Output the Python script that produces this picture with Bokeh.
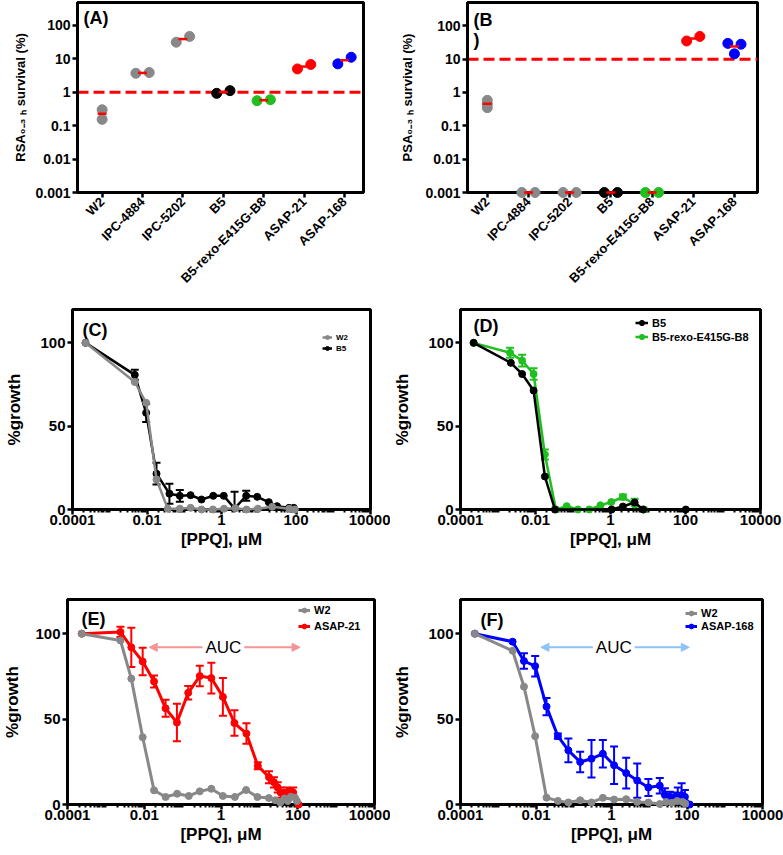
import math
from bokeh.plotting import figure
from bokeh.layouts import column, row
from bokeh.models import (FixedTicker, Span, Label, Legend, LegendItem, Whisker, TeeHead,
                          ColumnDataSource, Arrow, NormalHead, Range1d)
from bokeh.embed import file_html
from bokeh.resources import INLINE

FONT = "Liberation Sans"
GRAY = "#888888"
BLACK = "#000000"
GREEN = "#1fbf1f"
RED = "#ff0000"
BLUE = "#0000ff"
PINK = "#f59494"
LIGHTBLUE = "#8cc2f5"

# ---------------- data: panels A / B ----------------
strains = ["W2", "IPC-4884", "IPC-5202", "B5", "B5-rexo-E415G-B8", "ASAP-21", "ASAP-168"]
strain_colors = [GRAY, GRAY, GRAY, BLACK, GREEN, RED, BLUE]
rsa_survival = [[0.30, 0.155], [3.7, 3.9], [31.6, 47.0], [0.93, 1.12], [0.56, 0.60], [5.0, 6.8], [7.1, 11.2]]
rsa_cutoff = 1
psa_survival = [[0.58, 0.45, 0.35], [0.001, 0.001], [0.001, 0.001], [0.001, 0.001], [0.001, 0.001],
                [35.0, 48.0], [29.7, 28.0, 14.4]]
psa_cutoff = 10
log_ticks = [0.001, 0.01, 0.1, 1, 10, 100]
log_tick_labels = ["0.001", "0.01", "0.1", "1", "10", "100"]

# ---------------- data: panels C-F (conc in uM, % growth, SD) ----------------
c_w2_conc = [0.000224, 0.0047, 0.0095, 0.018, 0.036, 0.076, 0.148, 0.29, 0.59, 1.17, 2.35, 4.7, 9.5, 23, 66, 93]
c_w2_growth = [100, 76.5, 64, 18, 0.5, 0.5, 1, 0, 0, 0.5, 0.8, 0, 0.5, 1.6, 0.5, 0]
c_b5_conc = [0.000224, 0.0047, 0.0095, 0.018, 0.04, 0.076, 0.148, 0.29, 0.6, 1.15, 2.24, 4.6, 9.1, 18.6, 31, 65, 87]
c_b5_growth = [100, 80.8, 58, 21.5, 9.5, 8.2, 8.6, 6, 8.2, 8.2, 0.6, 8.2, 7.6, 4.4, 2, 1, 1]
c_b5_sd = [0, 3, 5.5, 6.5, 6, 3.5, 0, 0, 0, 0, 10, 3, 0, 0, 0, 0, 0]

d_b5_conc = [0.000224, 0.0022, 0.0044, 0.0089, 0.0178, 0.033, 1.07, 2.14, 4.4, 7.4, 102]
d_b5_growth = [100, 88, 81.3, 71.4, 19.8, 0, 0, 1.8, 4.2, 0, 0]
d_rexo_conc = [0.000224, 0.0021, 0.0044, 0.0089, 0.0178, 0.035, 0.068, 0.135, 0.27, 0.54, 1.05, 2.14, 4.4, 7.9]
d_rexo_growth = [100, 94, 89.3, 81.3, 33, 0, 2, 0, 0, 2.5, 4.5, 7.5, 3, 0]
d_rexo_sd = [0, 3, 3.5, 3.5, 3, 0, 0, 0, 0, 0, 0, 1.5, 3.5, 0]

e_w2_conc = [0.000234, 0.0024, 0.0046, 0.0091, 0.018, 0.036, 0.072, 0.145, 0.28, 0.56, 1.12, 2.3, 4.5, 8.9,
             17.7, 26, 35, 45, 55, 66, 85, 95]
e_w2_growth = [100, 96, 73.7, 39.4, 8.3, 4.4, 6.3, 5, 7.7, 9.2, 5, 4.4, 8.5, 4.4, 3.8, 2.5, 1.2, 3.5, 2, 4.5, 4, 2]
e_asap21_conc = [0.000234, 0.0024, 0.0046, 0.0091, 0.018, 0.036, 0.071, 0.14, 0.28, 0.56, 1.12, 2.24, 4.6, 9.1,
                 17.8, 24, 30, 36, 44, 52, 63, 76, 105]
e_asap21_growth = [100, 101, 92, 83.7, 72, 56.3, 48, 65.4, 75.2, 74, 63, 47.7, 41.5, 22.7, 16, 13, 10, 7, 5.5,
                   7, 6.5, 7, 0]
e_asap21_sd = [0, 3, 11.5, 8, 3.5, 5, 11, 4, 6, 9, 11, 7.5, 6, 2, 3.5, 3, 3, 3, 3, 3, 3, 3, 0]

f_w2_conc = [0.00024, 0.0024, 0.0048, 0.0095, 0.019, 0.038, 0.072, 0.148, 0.295, 0.59, 1.17, 2.45, 4.8, 9.5,
             19, 28, 40, 55, 76, 90]
f_w2_growth = [100, 90, 69, 40, 4, 2.1, 1.2, 2.5, 1.2, 3.9, 2.9, 3.1, 1.5, 1.2, 0.3, 1.5, 1, 2, 1.5, 0.5]
f_asap168_conc = [0.00024, 0.0024, 0.0048, 0.0095, 0.019, 0.038, 0.072, 0.148, 0.295, 0.59, 1.17, 2.45, 4.8,
                  9.5, 19, 26, 35, 46, 57, 72, 88, 118]
f_asap168_growth = [100, 95.3, 84, 81, 57.3, 40, 31.7, 24.9, 26.8, 29.7, 23, 18.4, 14, 10, 11, 5.5, 4.5, 4, 5,
                    5.5, 4.5, 0]
f_asap168_sd = [0, 0, 4.5, 6, 5, 1.5, 7, 6, 11, 8, 11, 9, 10, 5, 4.5, 4, 3, 3, 5, 7, 4, 0]

conc_ticks = [1e-4, 1e-2, 1, 1e2, 1e4]
conc_tick_labels = ["0.0001", "0.01", "1", "100", "10000"]
growth_ticks = [0, 50, 100]
auc_span = [0.0135, 115]
auc_text_x = 1.15
auc_level = 92

# layout-only constants (horizontal spread of overlapping dots)
rsa_jitter = [[0, 0], [-0.165, 0.165], [-0.165, 0.165], [-0.165, 0.165], [-0.165, 0.165], [-0.165, 0.165],
              [-0.165, 0.165]]
psa_jitter = [[0, 0, 0], [-0.16, 0.16], [-0.16, 0.16], [-0.16, 0.16], [-0.16, 0.16], [-0.16, 0.16],
              [-0.16, 0.16, 0]]


def base_fig(w, h, left, right, top, bottom, **kw):
    p = figure(width=w, height=h, min_border_left=left, min_border_right=right,
               min_border_top=top, min_border_bottom=bottom, output_backend="svg",
               toolbar_location=None, **kw)
    p.outline_line_color = "black"
    p.outline_line_width = 3
    p.outline_line_alpha = 1
    p.xgrid.visible = False
    p.ygrid.visible = False
    p.border_fill_color = "white"
    for ax in (p.xaxis[0], p.yaxis[0]):
        ax.axis_line_width = 3
        ax.axis_line_color = "black"
        ax.major_tick_line_width = 2.5
        ax.major_tick_out = 5
        ax.major_tick_in = 0
        ax.minor_tick_line_width = 2
        ax.minor_tick_out = 3
        ax.minor_tick_in = 0
        ax.major_label_text_font = FONT
        ax.major_label_text_font_style = "bold"
        ax.major_label_text_color = "black"
        ax.axis_label_text_font = FONT
        ax.axis_label_text_font_style = "bold"
        ax.axis_label_text_color = "black"
        ax.major_label_standoff = 2
    return p


def panel_label(p, text, dx, y_top_screen):
    p.add_layout(Label(x=dx, y=y_top_screen, x_units="screen", y_units="screen", text=text,
                       text_font=FONT, text_font_style="bold", text_font_size="18px",
                       text_baseline="top", text_color="black"))


def survival_panel(values, jitter, cutoff, ylabel, xr, ytop, w, left, right, ylabel_standoff):
    p = base_fig(w, 293, left, right, 2, 101, x_range=Range1d(*xr), y_range=Range1d(0.001, ytop),
                 y_axis_type="log")
    p.yaxis.ticker = FixedTicker(ticks=log_ticks)
    p.yaxis.major_label_overrides = dict(zip(log_ticks, log_tick_labels))
    p.yaxis.major_label_text_font_size = "14px"
    p.yaxis.axis_label = ylabel
    p.yaxis.axis_label_text_font_size = "13px"
    p.yaxis.axis_label_standoff = ylabel_standoff
    idx = list(range(len(strains)))
    p.xaxis.ticker = FixedTicker(ticks=idx)
    p.xaxis.major_label_overrides = dict(zip(idx, strains))
    p.xaxis.major_label_orientation = math.pi / 4
    p.xaxis.major_label_text_font_size = "13px"

    p.add_layout(Span(location=cutoff, dimension="width", line_color=RED, line_width=3,
                      line_dash="11 5", level="underlay"))
    xs, ys, cs = [], [], []
    for i, (vals, jit) in enumerate(zip(values, jitter)):
        for v, j in zip(vals, jit):
            xs.append(i + j)
            ys.append(v)
            cs.append(strain_colors[i])
    p.scatter(x=xs, y=ys, size=10, color=cs, level="overlay")
    means = [sum(v) / len(v) for v in values]
    p.segment(x0=[i - 0.11 for i in idx], x1=[i + 0.11 for i in idx], y0=means, y1=means,
              line_color=RED, line_width=2.5, level="overlay")
    return p


def dose_panel(w, h, left, right, top, bottom, ylabel_standoff):
    p = base_fig(w, h, left, right, top, bottom, x_axis_type="log",
                 x_range=Range1d(1e-4, 1e4), y_range=Range1d(0, 120))
    minor = []
    for k in range(-4, 4):
        for m in range(1, 10):
            v = m * 10.0 ** k
            if v not in conc_ticks:
                minor.append(v)
    p.xaxis.ticker = FixedTicker(ticks=conc_ticks, minor_ticks=minor)
    p.xaxis.major_label_overrides = dict(zip(conc_ticks, conc_tick_labels))
    p.xaxis.major_label_text_font_size = "15px"
    p.xaxis.major_label_standoff = 0
    p.xaxis.axis_label = "[PPQ], \u03bcM"
    p.xaxis.axis_label_text_font_size = "17px"
    p.xaxis.axis_label_standoff = 2
    p.yaxis.ticker = FixedTicker(ticks=growth_ticks)
    p.yaxis.major_label_text_font_size = "15px"
    p.yaxis.axis_label = "%growth"
    p.yaxis.axis_label_text_font_size = "17px"
    p.yaxis.axis_label_standoff = ylabel_standoff
    return p


def add_series(p, conc, growth, color, lw, sd=None):
    if sd is not None:
        pts = [(c, g, s) for c, g, s in zip(conc, growth, sd) if s > 0]
        src = ColumnDataSource(dict(x=[a for a, _, _ in pts], lo=[g - s for _, g, s in pts],
                                    hi=[g + s for _, g, s in pts]))
        p.add_layout(Whisker(source=src, base="x", lower="lo", upper="hi", dimension="height",
                             line_color=color, line_width=2,
                             upper_head=TeeHead(size=8, line_color=color, line_width=2),
                             lower_head=TeeHead(size=8, line_color=color, line_width=2)))
    lr = p.line(conc, growth, line_color=color, line_width=lw, level="overlay")
    sr = p.scatter(conc, growth, size=7, color=color, level="overlay")
    return [lr, sr]


def add_legend(p, items, loc, font_size, glyph_w, item_h, spacing):
    leg = Legend(items=[LegendItem(label=t, renderers=r) for t, r in items], location=loc,
                 border_line_color=None, background_fill_alpha=0, padding=0, margin=0,
                 spacing=spacing, label_standoff=4, glyph_width=glyph_w, glyph_height=item_h,
                 label_height=item_h, label_text_font=FONT, label_text_font_style="bold",
                 label_text_font_size=font_size, label_text_color="black")
    p.add_layout(leg)


def add_auc(p, color, level):
    p.add_layout(Arrow(x_start=auc_span[0], y_start=level, x_end=auc_span[1], y_end=level,
                       line_color=color, line_width=2,
                       start=NormalHead(size=8, fill_color=color, line_color=color),
                       end=NormalHead(size=8, fill_color=color, line_color=color)))
    p.add_layout(Label(x=auc_text_x, y=level, text="AUC", text_align="center", text_baseline="middle",
                       text_font=FONT, text_font_size="17px", text_color="black",
                       background_fill_color="white", padding=3))


# ---------------- A ----------------
pA = survival_panel(rsa_survival, rsa_jitter, rsa_cutoff, "RSA\u2080\u208b\u2083 \u2095 survival (%)",
                    (-0.61, 6.47), 488, 390, 77, 27, 4)
panel_label(pA, "(A)", 6, 185)

# ---------------- B ----------------
pB = survival_panel(psa_survival, psa_jitter, psa_cutoff, "PSA\u2080\u208b\u2083 \u2095 survival (%)",
                    (-0.48, 6.56), 500, 393, 77, 26, 7)
panel_label(pB, "(B", 6, 183)
panel_label(pB, ")", 6, 163)

# ---------------- C ----------------
pC = dose_panel(390, 259, 72, 20, 16, 43, 13)
c_b5 = add_series(pC, c_b5_conc, c_b5_growth, BLACK, 2.5, c_b5_sd)
c_w2 = add_series(pC, c_w2_conc, c_w2_growth, GRAY, 2.5)
add_legend(pC, [("W2", c_w2), ("B5", c_b5)], (250, 156), "8px", 10, 10, 1)
panel_label(pC, "(C)", 10, 190)

# ---------------- D ----------------
pD = dose_panel(393, 259, 68, 23, 16, 41, 13)
d_rexo = add_series(pD, d_rexo_conc, d_rexo_growth, GREEN, 2.5, d_rexo_sd)
d_b5 = add_series(pD, d_b5_conc, d_b5_growth, BLACK, 2.5)
add_legend(pD, [("B5", d_b5), ("B5-rexo-E415G-B8", d_rexo)], (175, 166), "11px", 13, 13, 1)
panel_label(pD, "(D)", 13, 194)

# ---------------- E ----------------
pE = dose_panel(390, 303, 62, 16, 46, 49, 10)
add_auc(pE, PINK, auc_level)
e_asap = add_series(pE, e_asap21_conc, e_asap21_growth, RED, 3, e_asap21_sd)
e_w2 = add_series(pE, e_w2_conc, e_w2_growth, GRAY, 3)
add_legend(pE, [("W2", e_w2), ("ASAP-21", e_asap)], (231, 171), "11px", 12, 14, 2)
panel_label(pE, "(E)", 14, 196)

# ---------------- F ----------------
pF = dose_panel(393, 303, 63, 21, 47, 51, 13)
add_auc(pF, LIGHTBLUE, auc_level)
f_asap = add_series(pF, f_asap168_conc, f_asap168_growth, BLUE, 3, f_asap168_sd)
f_w2 = add_series(pF, f_w2_conc, f_w2_growth, GRAY, 3)
add_legend(pF, [("W2", f_w2), ("ASAP-168", f_asap)], (225, 172), "11px", 12, 12, 1)
panel_label(pF, "(F)", 20, 195)

layout = column(row(pA, pB), row(pC, pD), row(pE, pF))
open("out.html", "w").write(file_html(layout, INLINE))
